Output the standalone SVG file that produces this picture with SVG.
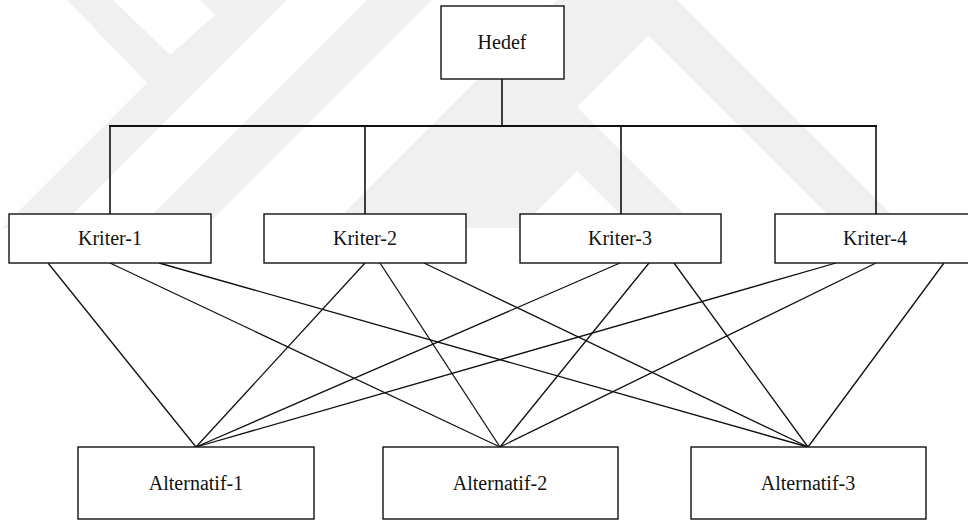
<svg xmlns="http://www.w3.org/2000/svg" width="968" height="522" viewBox="0 0 968 522">
  <style>
    .box { fill: #ffffff; stroke: #111111; stroke-width: 1.4; }
    text { font-family: "Liberation Serif", "Times New Roman", "DejaVu Serif", serif; font-size: 20px; fill: #111111; text-anchor: middle; }
    .tree { stroke: #111111; stroke-width: 1.6; fill: none; }
    .bar { stroke: #111111; stroke-width: 2.2; fill: none; }
    .link { stroke: #111111; stroke-width: 1.3; fill: none; }
    .wm { fill: #f0f0f0; stroke: none; }
  </style>

  <rect width="968" height="522" fill="#ffffff"/>

  <!-- faint background emblem -->
  <g id="emblem">
    <polygon class="wm" points="67,0 113,0 170,55 215,15 200,0 287,0 59,228 2,228 147,83"/>
    <polygon class="wm" points="367,0 432,0 204,228 139,228"/>
    <polygon class="wm" points="557,0 677,0 905,228 841,228 648.5,35.5 456,228 329,228"/>
    <polygon class="wm" points="577,107 698,228 634,228 577,171 520,228 456,228"/>
  </g>

  <!-- hierarchy connectors -->
  <g id="connectors">
    <line class="tree" x1="502" y1="79" x2="502" y2="126"/>
    <line class="bar" x1="109" y1="126" x2="877" y2="126"/>
    <line class="tree" x1="110" y1="126" x2="110" y2="214"/>
    <line class="tree" x1="365" y1="126" x2="365" y2="214"/>
    <line class="tree" x1="621" y1="126" x2="621" y2="214"/>
    <line class="tree" x1="876" y1="126" x2="876" y2="214"/>

    <!-- Kriter-1 -->
    <line class="link" x1="48" y1="263" x2="196" y2="447"/>
    <line class="link" x1="110" y1="263" x2="500" y2="447"/>
    <line class="link" x1="159" y1="263" x2="808" y2="447"/>
    <!-- Kriter-2 -->
    <line class="link" x1="365" y1="263" x2="196" y2="447"/>
    <line class="link" x1="380" y1="263" x2="500" y2="447"/>
    <line class="link" x1="424" y1="263" x2="808" y2="447"/>
    <!-- Kriter-3 -->
    <line class="link" x1="620" y1="263" x2="196" y2="447"/>
    <line class="link" x1="649" y1="263" x2="500" y2="447"/>
    <line class="link" x1="674" y1="263" x2="808" y2="447"/>
    <!-- Kriter-4 -->
    <line class="link" x1="836" y1="263" x2="196" y2="447"/>
    <line class="link" x1="876" y1="263" x2="500" y2="447"/>
    <line class="link" x1="944" y1="263" x2="808" y2="447"/>
  </g>

  <g id="hedef">
    <rect class="box" x="441" y="6" width="123" height="73"/>
    <text x="502" y="49" font-family="Liberation Serif, serif">Hedef</text>
  </g>

  <g id="kriter-1">
    <rect class="box" x="9" y="214" width="202" height="49"/>
    <text x="110" y="245" font-family="Liberation Serif, serif">Kriter-1</text>
  </g>
  <g id="kriter-2">
    <rect class="box" x="264" y="214" width="202" height="49"/>
    <text x="365" y="245" font-family="Liberation Serif, serif">Kriter-2</text>
  </g>
  <g id="kriter-3">
    <rect class="box" x="520" y="214" width="201" height="49"/>
    <text x="620" y="245" font-family="Liberation Serif, serif">Kriter-3</text>
  </g>
  <g id="kriter-4">
    <rect class="box" x="775" y="214" width="202" height="49"/>
    <text x="875" y="245" font-family="Liberation Serif, serif">Kriter-4</text>
  </g>

  <g id="alternatif-1">
    <rect class="box" x="78" y="447" width="236" height="72"/>
    <text x="196" y="490" font-family="Liberation Serif, serif">Alternatif-1</text>
  </g>
  <g id="alternatif-2">
    <rect class="box" x="383" y="447" width="235" height="72"/>
    <text x="500" y="490" font-family="Liberation Serif, serif">Alternatif-2</text>
  </g>
  <g id="alternatif-3">
    <rect class="box" x="691" y="447" width="235" height="72"/>
    <text x="808" y="490" font-family="Liberation Serif, serif">Alternatif-3</text>
  </g>
</svg>
